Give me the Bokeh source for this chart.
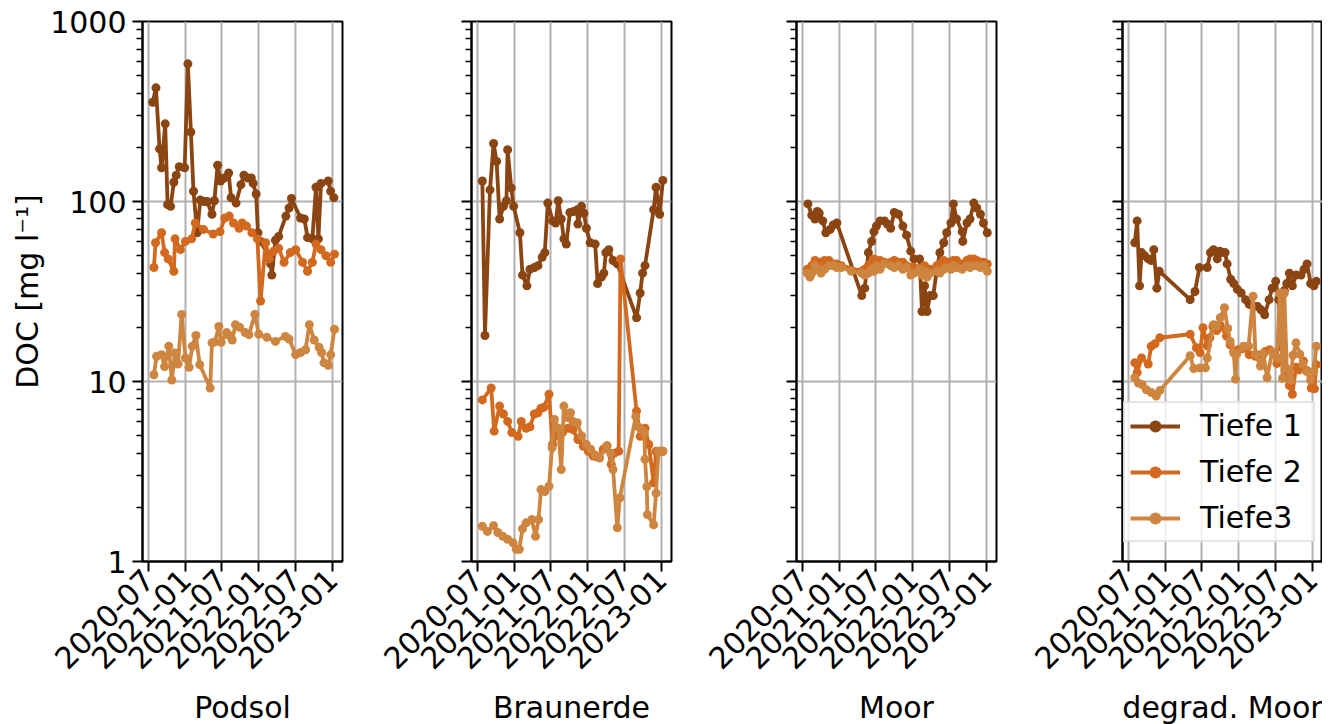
import math
import pandas as pd
from bokeh.plotting import figure
from bokeh.layouts import row
from bokeh.models import (FixedTicker, DatetimeTickFormatter, PrintfTickFormatter, CustomJSTickFormatter,
                          Range1d, Legend, LegendItem, ColumnDataSource)
from bokeh.embed import file_html
from bokeh.resources import INLINE

# ---------------- data ----------------
soils = ["Podsol", "Braunerde", "Moor", "degrad. Moor"]
series_names = ["Tiefe 1", "Tiefe 2", "Tiefe3"]
colors = ["#8B4513", "#D2691E", "#CD853F"]
x_tick_labels = ["2020-07", "2021-01", "2021-07", "2022-01", "2022-07", "2023-01"]
y_tick_values = [1, 10, 100, 1000]

podsol_t1_dates = ["2020-07-22", "2020-08-07", "2020-08-25", "2020-09-04", "2020-09-22", "2020-10-04",
                   "2020-10-19", "2020-11-04", "2020-11-16", "2020-12-01", "2020-12-28", "2021-01-13",
                   "2021-01-28", "2021-02-10", "2021-02-28", "2021-03-16", "2021-04-04", "2021-04-19",
                   "2021-05-13", "2021-05-25", "2021-06-10", "2021-06-25", "2021-07-13", "2021-08-04",
                   "2021-08-16", "2021-09-10", "2021-10-04", "2021-10-19", "2021-11-07", "2021-11-25",
                   "2021-12-04", "2021-12-19", "2021-12-28", "2022-01-10", "2022-02-13", "2022-03-01",
                   "2022-03-07", "2022-03-25", "2022-04-10", "2022-05-16", "2022-06-01", "2022-06-13",
                   "2022-07-28", "2022-08-16", "2022-09-01", "2022-09-25", "2022-10-13", "2022-10-25",
                   "2022-11-07", "2022-12-13", "2022-12-25", "2023-01-10"]
podsol_t1_doc = [356, 428, 196, 154, 270, 96, 94, 128, 140, 156, 154, 582, 243, 114, 67, 102, 100, 100,
                 85, 101, 159, 130, 135, 144, 105, 98, 124, 140, 135, 135, 126, 110, 67, 60, 51, 45,
                 39, 61, 64, 83, 92, 104, 81, 80, 63, 62, 120, 62, 126, 130, 114, 105]

podsol_t2_dates = ["2020-07-28", "2020-08-05", "2020-09-04", "2020-09-19", "2020-10-07", "2020-11-04",
                   "2020-11-10", "2020-12-07", "2021-01-01", "2021-02-01", "2021-02-19", "2021-04-01",
                   "2021-05-19", "2021-06-22", "2021-07-16", "2021-08-07", "2021-08-28", "2021-09-25",
                   "2021-10-10", "2021-11-01", "2021-11-28", "2021-12-25", "2022-01-10", "2022-02-04",
                   "2022-02-22", "2022-03-16", "2022-04-10", "2022-05-07", "2022-06-07", "2022-07-04",
                   "2022-08-07", "2022-09-01", "2022-09-25", "2022-10-13", "2022-11-07", "2022-12-01",
                   "2022-12-25", "2023-01-13"]
podsol_t2_doc = [43, 59, 67, 52, 48, 41, 62, 54, 60, 62, 76, 70, 66, 68, 81, 83, 76, 71, 76, 73, 67, 62,
                 28, 59, 48, 53, 55, 46, 52, 54, 46, 41, 46, 58, 54, 50, 46, 51]

podsol_t3_dates = ["2020-07-28", "2020-08-10", "2020-09-04", "2020-09-19", "2020-10-10", "2020-10-25",
                   "2020-11-10", "2020-11-25", "2020-12-13", "2021-01-01", "2021-01-19", "2021-02-04",
                   "2021-02-22", "2021-03-13", "2021-05-04", "2021-05-13", "2021-05-28", "2021-06-16",
                   "2021-06-28", "2021-07-25", "2021-08-07", "2021-08-22", "2021-09-07", "2021-09-28",
                   "2021-10-25", "2021-11-13", "2021-12-13", "2022-01-01", "2022-02-10", "2022-03-25",
                   "2022-05-13", "2022-06-01", "2022-07-04", "2022-07-28", "2022-08-22", "2022-09-10",
                   "2022-10-04", "2022-10-28", "2022-11-10", "2022-11-22", "2022-12-13", "2022-12-25",
                   "2023-01-13"]
podsol_t3_doc = [10.9, 13.8, 14.1, 12.1, 15.7, 10.2, 14.4, 12.5, 23.6, 13.5, 12.0, 15.7, 18.0, 12.4, 9.2,
                 16.4, 16.6, 20.2, 16.5, 18.7, 18.0, 17.0, 20.7, 20.0, 18.7, 18.2, 23.6, 18.3, 17.6, 16.7,
                 17.8, 17.2, 14.1, 14.5, 15.0, 20.7, 17.0, 15.5, 14.5, 12.7, 12.3, 14.1, 19.5]

braun_t1_dates = ["2020-07-25", "2020-08-07", "2020-09-01", "2020-09-19", "2020-10-04", "2020-10-19",
                  "2020-11-07", "2020-11-22", "2020-11-28", "2020-12-16", "2020-12-28", "2021-01-28",
                  "2021-02-10", "2021-03-04", "2021-03-19", "2021-04-10", "2021-04-28", "2021-05-19",
                  "2021-06-01", "2021-06-16", "2021-07-10", "2021-07-25", "2021-08-07", "2021-08-22",
                  "2021-09-04", "2021-09-16", "2021-10-04", "2021-10-22", "2021-11-10", "2021-11-13",
                  "2021-12-01", "2021-12-13", "2021-12-25", "2022-01-13", "2022-02-07", "2022-02-19",
                  "2022-03-10", "2022-03-22", "2022-04-01", "2022-04-16", "2022-05-07", "2022-05-28",
                  "2022-09-01", "2022-09-19", "2022-10-01", "2022-10-13", "2022-11-25", "2022-12-07",
                  "2022-12-25", "2023-01-10"]
braun_t1_doc = [130, 18, 116, 210, 167, 80, 94, 101, 194, 119, 94, 67, 39, 34, 42, 43, 44, 49, 52, 98,
                78, 76, 101, 80, 62, 58, 87, 88, 90, 75, 94, 86, 71, 59, 58, 35, 38, 40, 52, 54, 47, 45,
                22.6, 31, 40, 44, 90, 120, 85, 131]

braun_t2_dates = ["2020-07-25", "2020-09-07", "2020-09-22", "2020-10-19", "2020-11-07", "2020-11-28",
                  "2020-12-19", "2021-01-19", "2021-02-04", "2021-02-28", "2021-03-19", "2021-04-10",
                  "2021-04-28", "2021-05-13", "2021-05-28", "2021-06-22", "2021-07-10", "2021-08-07",
                  "2021-08-28", "2021-09-25", "2021-10-19", "2021-11-13", "2021-12-10", "2022-01-04",
                  "2022-01-28", "2022-02-19", "2022-03-19", "2022-04-07", "2022-04-28", "2022-05-13",
                  "2022-06-04", "2022-06-13", "2022-09-01", "2022-09-19", "2022-10-13", "2022-11-01",
                  "2022-11-25", "2022-12-07", "2022-12-25", "2023-01-10"]
braun_t2_doc = [7.9, 9.2, 5.3, 7.3, 6.6, 6.0, 5.2, 4.96, 6.0, 5.5, 5.6, 6.6, 6.7, 7.1, 7.2, 8.5, 4.47,
                5.2, 5.2, 5.5, 5.4, 4.76, 4.37, 4.1, 3.85, 3.8, 4.2, 4.4, 3.46, 4.0, 4.1, 48, 6.85, 4.96,
                5.5, 4.47, 2.74, 4.1, 4.1, 4.1]

braun_t3_dates = ["2020-07-25", "2020-08-19", "2020-09-19", "2020-10-10", "2020-11-04", "2020-11-28",
                  "2020-12-25", "2021-01-10", "2021-01-25", "2021-02-10", "2021-02-28", "2021-03-28",
                  "2021-04-16", "2021-05-01", "2021-05-13", "2021-06-01", "2021-06-22", "2021-07-07",
                  "2021-07-19", "2021-08-07", "2021-08-22", "2021-09-04", "2021-09-22", "2021-10-07",
                  "2021-10-19", "2021-11-10", "2021-12-01", "2021-12-25", "2022-01-16", "2022-02-07",
                  "2022-03-01", "2022-04-04", "2022-04-25", "2022-05-07", "2022-05-28", "2022-06-10",
                  "2022-08-28", "2022-09-10", "2022-09-25", "2022-10-10", "2022-10-13", "2022-10-22",
                  "2022-10-25", "2022-11-25", "2022-12-07", "2022-12-19", "2023-01-10"]
braun_t3_doc = [1.57, 1.47, 1.58, 1.45, 1.38, 1.33, 1.27, 1.17, 1.17, 1.52, 1.64, 1.71, 1.38, 1.71, 2.51,
                2.45, 2.62, 4.28, 6.15, 5.5, 3.24, 7.3, 6.3, 6.7, 6.0, 5.9, 5.0, 4.47, 4.2, 3.9, 3.76,
                4.37, 4.0, 3.24, 1.54, 2.26, 6.4, 5.6, 5.4, 5.2, 3.7, 2.6, 1.82, 1.6, 2.4, 4.1, 4.1]

moor_t1_dates = ["2020-07-28", "2020-08-16", "2020-09-01", "2020-09-13", "2020-09-22", "2020-10-10",
                 "2020-10-25", "2020-11-16", "2020-12-01", "2020-12-19", "2021-04-22", "2021-05-07",
                 "2021-05-25", "2021-06-10", "2021-06-22", "2021-07-04", "2021-07-22", "2021-08-13",
                 "2021-08-28", "2021-09-13", "2021-10-01", "2021-10-22", "2021-11-13", "2021-12-01",
                 "2021-12-22", "2022-01-07", "2022-02-04", "2022-02-16", "2022-03-01", "2022-03-13",
                 "2022-03-28", "2022-04-13", "2022-05-01", "2022-05-16", "2022-06-04", "2022-06-19",
                 "2022-07-10", "2022-07-22", "2022-08-07", "2022-09-04", "2022-09-07", "2022-09-28",
                 "2022-10-13", "2022-11-01", "2022-11-16", "2022-12-04", "2022-12-19", "2023-01-07"]
moor_t1_doc = [97, 84, 80, 88, 86, 78, 67, 70, 74, 76, 30, 33, 52, 60, 68, 73, 78, 78, 75, 71, 87, 85,
               73, 65, 53, 48, 48, 24.5, 34, 24.5, 30, 30, 42, 52, 59, 67, 76, 97, 80, 68, 60, 76, 80,
               98, 92, 85, 76, 67]

moor_t2_dates = ["2020-07-25", "2020-08-16", "2020-09-01", "2020-09-16", "2020-10-01", "2020-10-19",
                 "2020-11-10", "2020-12-01", "2020-12-19", "2021-01-10", "2021-04-22", "2021-05-07",
                 "2021-05-25", "2021-06-10", "2021-06-22", "2021-07-04", "2021-07-22", "2021-08-13",
                 "2021-09-13", "2021-10-01", "2021-10-22", "2021-11-13", "2021-12-01", "2021-12-22",
                 "2022-01-07", "2022-02-04", "2022-02-16", "2022-03-01", "2022-03-13", "2022-03-28",
                 "2022-05-01", "2022-05-16", "2022-06-04", "2022-06-19", "2022-07-10", "2022-07-22",
                 "2022-08-07", "2022-09-04", "2022-09-28", "2022-10-13", "2022-11-01", "2022-11-16",
                 "2022-12-04", "2022-12-19", "2023-01-07"]
moor_t2_doc = [42, 44, 47, 44, 46, 47, 47, 45, 45, 44, 41, 42, 44, 46, 48, 46, 47, 46, 46, 47, 46, 46,
               44, 43, 43, 42, 43, 44, 41, 42, 44, 45, 47, 46, 46, 47, 47, 45, 47, 48, 48, 47, 46, 46, 45]

moor_t3_dates = ["2020-07-25", "2020-08-07", "2020-08-16", "2020-09-01", "2020-09-16", "2020-10-01",
                 "2020-10-19", "2020-11-10", "2020-12-01", "2020-12-19", "2021-01-10", "2021-03-01",
                 "2021-04-22", "2021-05-07", "2021-05-25", "2021-06-10", "2021-06-22", "2021-07-04",
                 "2021-07-22", "2021-08-13", "2021-09-13", "2021-10-01", "2021-10-22", "2021-11-13",
                 "2021-12-01", "2021-12-22", "2022-01-07", "2022-02-04", "2022-02-16", "2022-03-01",
                 "2022-03-13", "2022-03-28", "2022-05-01", "2022-05-16", "2022-06-04", "2022-06-19",
                 "2022-07-10", "2022-07-22", "2022-08-07", "2022-09-04", "2022-09-28", "2022-10-13",
                 "2022-11-01", "2022-11-16", "2022-12-04", "2022-12-19", "2023-01-07"]
moor_t3_doc = [40, 38, 40, 44, 42, 40, 42, 44, 44, 43, 43, 41, 40, 39, 40, 42, 41, 44, 42, 45, 44, 43,
               44, 42, 43, 39, 40, 42, 39, 41, 38, 40, 41, 40, 42, 43, 42, 44, 43, 42, 44, 43, 44, 44,
               43, 44, 41]

dmoor_t1_dates = ["2020-08-01", "2020-08-13", "2020-08-25", "2020-09-04", "2020-09-19", "2020-10-07",
                  "2020-10-22", "2020-11-04", "2020-11-19", "2020-12-01", "2021-05-04", "2021-05-28",
                  "2021-06-19", "2021-07-28", "2021-08-13", "2021-08-28", "2021-09-16", "2021-09-28",
                  "2021-10-10", "2021-10-25", "2021-11-04", "2021-11-22", "2021-12-07", "2021-12-25",
                  "2022-01-13", "2022-02-04", "2022-02-22", "2022-03-10", "2022-04-04", "2022-04-22",
                  "2022-05-10", "2022-06-01", "2022-06-16", "2022-07-04", "2022-07-19", "2022-08-07",
                  "2022-08-16", "2022-08-28", "2022-09-10", "2022-09-25", "2022-10-13", "2022-11-07",
                  "2022-11-22", "2022-12-07", "2022-12-25", "2023-01-10", "2023-01-22"]
dmoor_t1_doc = [59, 78, 34, 52, 50, 48, 47, 54, 33, 41, 28.5, 31.6, 43, 43, 52, 54, 48, 53, 52, 52, 45,
                37, 35, 32.5, 31, 28.5, 26.8, 26.5, 26.1, 25, 23.5, 28.5, 33, 36, 28.5, 15.4, 32, 35, 40,
                34, 39, 39, 42, 45, 35, 34, 36]

dmoor_t2_dates = ["2020-08-01", "2020-08-13", "2020-09-04", "2020-10-07", "2020-10-22", "2020-11-10",
                  "2020-12-04", "2021-05-04", "2021-06-04", "2021-06-22", "2021-07-07", "2021-07-28",
                  "2021-08-10", "2021-08-25", "2021-09-13", "2021-10-01", "2021-11-01", "2021-11-19",
                  "2021-12-07", "2021-12-28", "2022-01-19", "2022-02-04", "2022-02-22", "2022-03-25",
                  "2022-04-19", "2022-05-13", "2022-06-04", "2022-06-28", "2022-07-10", "2022-08-01",
                  "2022-08-22", "2022-09-10", "2022-09-25", "2022-10-13", "2022-10-28", "2022-11-19",
                  "2022-12-07", "2022-12-28", "2023-01-13", "2023-01-22"]
dmoor_t2_doc = [12.7, 11.2, 13.5, 12.5, 15.7, 16.2, 17.5, 18.3, 15.4, 14.5, 19.9, 15.8, 17.5, 20.2, 19.2,
                20.5, 17.9, 16.0, 14.7, 15.0, 15.2, 15.4, 14.1, 13.8, 14.1, 14.7, 15.0, 14.4, 12.6, 13.5,
                11.2, 9.5, 8.5, 12.0, 11.6, 13.0, 11.5, 9.2, 9.1, 12.4]

dmoor_t3_dates = ["2020-08-01", "2020-08-19", "2020-09-07", "2020-09-28", "2020-10-22", "2020-11-16",
                  "2020-12-04", "2021-05-04", "2021-05-22", "2021-06-22", "2021-07-19", "2021-07-28",
                  "2021-08-28", "2021-09-13", "2021-10-01", "2021-10-22", "2021-11-07", "2021-11-19",
                  "2021-12-07", "2021-12-16", "2021-12-22", "2022-01-25", "2022-02-19", "2022-03-13",
                  "2022-03-25", "2022-04-19", "2022-05-04", "2022-05-22", "2022-06-16", "2022-07-10",
                  "2022-07-25", "2022-08-07", "2022-08-16", "2022-08-28", "2022-09-16", "2022-09-28",
                  "2022-10-13", "2022-11-01", "2022-11-16", "2022-12-04", "2022-12-25", "2023-01-10",
                  "2023-01-22"]
dmoor_t3_doc = [10.5, 9.8, 9.6, 9.0, 8.7, 8.3, 8.9, 13.9, 11.8, 11.9, 11.9, 13.5, 20.7, 20.4, 22.6, 25.7,
                19.7, 16.7, 14.4, 10.3, 14.2, 15.7, 15.7, 29.8, 14.2, 12.2, 14.2, 10.5, 14.6, 13.5, 31,
                10.4, 31, 11.8, 10.2, 14.0, 16.4, 14.2, 12.5, 11.4, 10.2, 11.4, 15.7]

panel_data = [
    [(podsol_t1_dates, podsol_t1_doc), (podsol_t2_dates, podsol_t2_doc), (podsol_t3_dates, podsol_t3_doc)],
    [(braun_t1_dates, braun_t1_doc), (braun_t2_dates, braun_t2_doc), (braun_t3_dates, braun_t3_doc)],
    [(moor_t1_dates, moor_t1_doc), (moor_t2_dates, moor_t2_doc), (moor_t3_dates, moor_t3_doc)],
    [(dmoor_t1_dates, dmoor_t1_doc), (dmoor_t2_dates, dmoor_t2_doc), (dmoor_t3_dates, dmoor_t3_doc)],
]

# ---------------- styling / layout ----------------
FONT = "DejaVu Sans"
FS = "30px"
x_start = pd.Timestamp("2020-06-01")
x_end = pd.Timestamp("2023-02-22")
x_ticks_ms = [pd.Timestamp(s + "-01").value / 1e6 for s in x_tick_labels]
y_minor = [m * d for d in (1, 10, 100) for m in range(2, 10)]
left_borders = [142, 114, 110, 111]
right_borders = [15, 15, 15, 0]

fmt = "%Y-%m"
figs = []
for i, soil in enumerate(soils):
    p = figure(width=left_borders[i] + 200 + right_borders[i], height=710,
               frame_width=200, frame_height=540,
               x_axis_type="datetime", y_axis_type="log",
               x_range=Range1d(x_start, x_end), y_range=Range1d(1, 1000),
               output_backend="svg", toolbar_location=None,
               min_border_left=left_borders[i], min_border_right=right_borders[i],
               min_border_top=21, min_border_bottom=120,
               background_fill_color="white", border_fill_color="white")
    p.outline_line_color = "black"
    p.outline_line_width = 2
    p.outline_line_alpha = 1

    xt = FixedTicker(ticks=x_ticks_ms)
    yt = FixedTicker(ticks=y_tick_values, minor_ticks=y_minor)
    p.xaxis.ticker = xt
    p.xaxis.formatter = DatetimeTickFormatter(years=fmt, months=fmt, days=fmt, hours=fmt,
                                              minutes=fmt, seconds=fmt, milliseconds=fmt,
                                              minsec=fmt, hourmin=fmt, context=None)
    p.yaxis.ticker = yt
    p.xgrid.ticker = xt
    p.ygrid.ticker = FixedTicker(ticks=y_tick_values)
    for g in (p.xgrid, p.ygrid):
        g.grid_line_color = "#b0b0b0"
        g.grid_line_width = 2

    for ax in (p.xaxis, p.yaxis):
        ax.axis_line_color = "black"
        ax.axis_line_width = 2
        ax.major_tick_out = 10
        ax.major_tick_in = 0
        ax.minor_tick_out = 6
        ax.minor_tick_in = 0
        ax.major_tick_line_width = 2
        ax.minor_tick_line_width = 1.6
        ax.major_label_text_font = FONT
        ax.major_label_text_font_size = FS
        ax.major_label_text_color = "black"
        ax.axis_label_text_font = FONT
        ax.axis_label_text_font_size = FS
        ax.axis_label_text_font_style = "normal"
        ax.axis_label_text_color = "black"
    p.xaxis.major_label_orientation = math.pi / 4
    p.xaxis.major_label_standoff = 3
    p.xaxis.axis_label = soil
    p.xaxis.axis_label_standoff = 8
    if i == 0:
        p.yaxis.formatter = PrintfTickFormatter(format="%d")
        p.yaxis.axis_label = "DOC [mg l\u207b\u00b9]"
        p.yaxis.major_label_standoff = 6
        p.yaxis.axis_label_standoff = 2
    else:
        p.yaxis.formatter = CustomJSTickFormatter(code="return ''")

    items = []
    for j, (dates, vals) in enumerate(panel_data[i]):
        src = ColumnDataSource(dict(date=pd.to_datetime(dates), doc=vals))
        lr = p.line("date", "doc", source=src, line_color=colors[j], line_width=3.8)
        sr = p.scatter("date", "doc", source=src, size=9, fill_color=colors[j],
                       line_color=colors[j], line_width=0)
        items.append(LegendItem(label=series_names[j], renderers=[lr, sr]))

    if i == 3:
        leg = Legend(items=items, location=(1, 19), orientation="vertical")
        leg.label_text_font = FONT
        leg.label_text_font_size = FS
        leg.label_text_color = "black"
        leg.glyph_width = 50
        leg.glyph_height = 30
        leg.label_height = 30
        leg.label_width = 108
        leg.spacing = 11
        leg.padding = 5
        leg.margin = 0
        leg.label_standoff = 20
        leg.border_line_color = "#cccccc"
        leg.border_line_width = 2
        leg.background_fill_color = "white"
        leg.background_fill_alpha = 0.8
        p.add_layout(leg)
    figs.append(p)

layout = row(*figs, spacing=0)
open("out.html", "w").write(file_html(layout, INLINE))
